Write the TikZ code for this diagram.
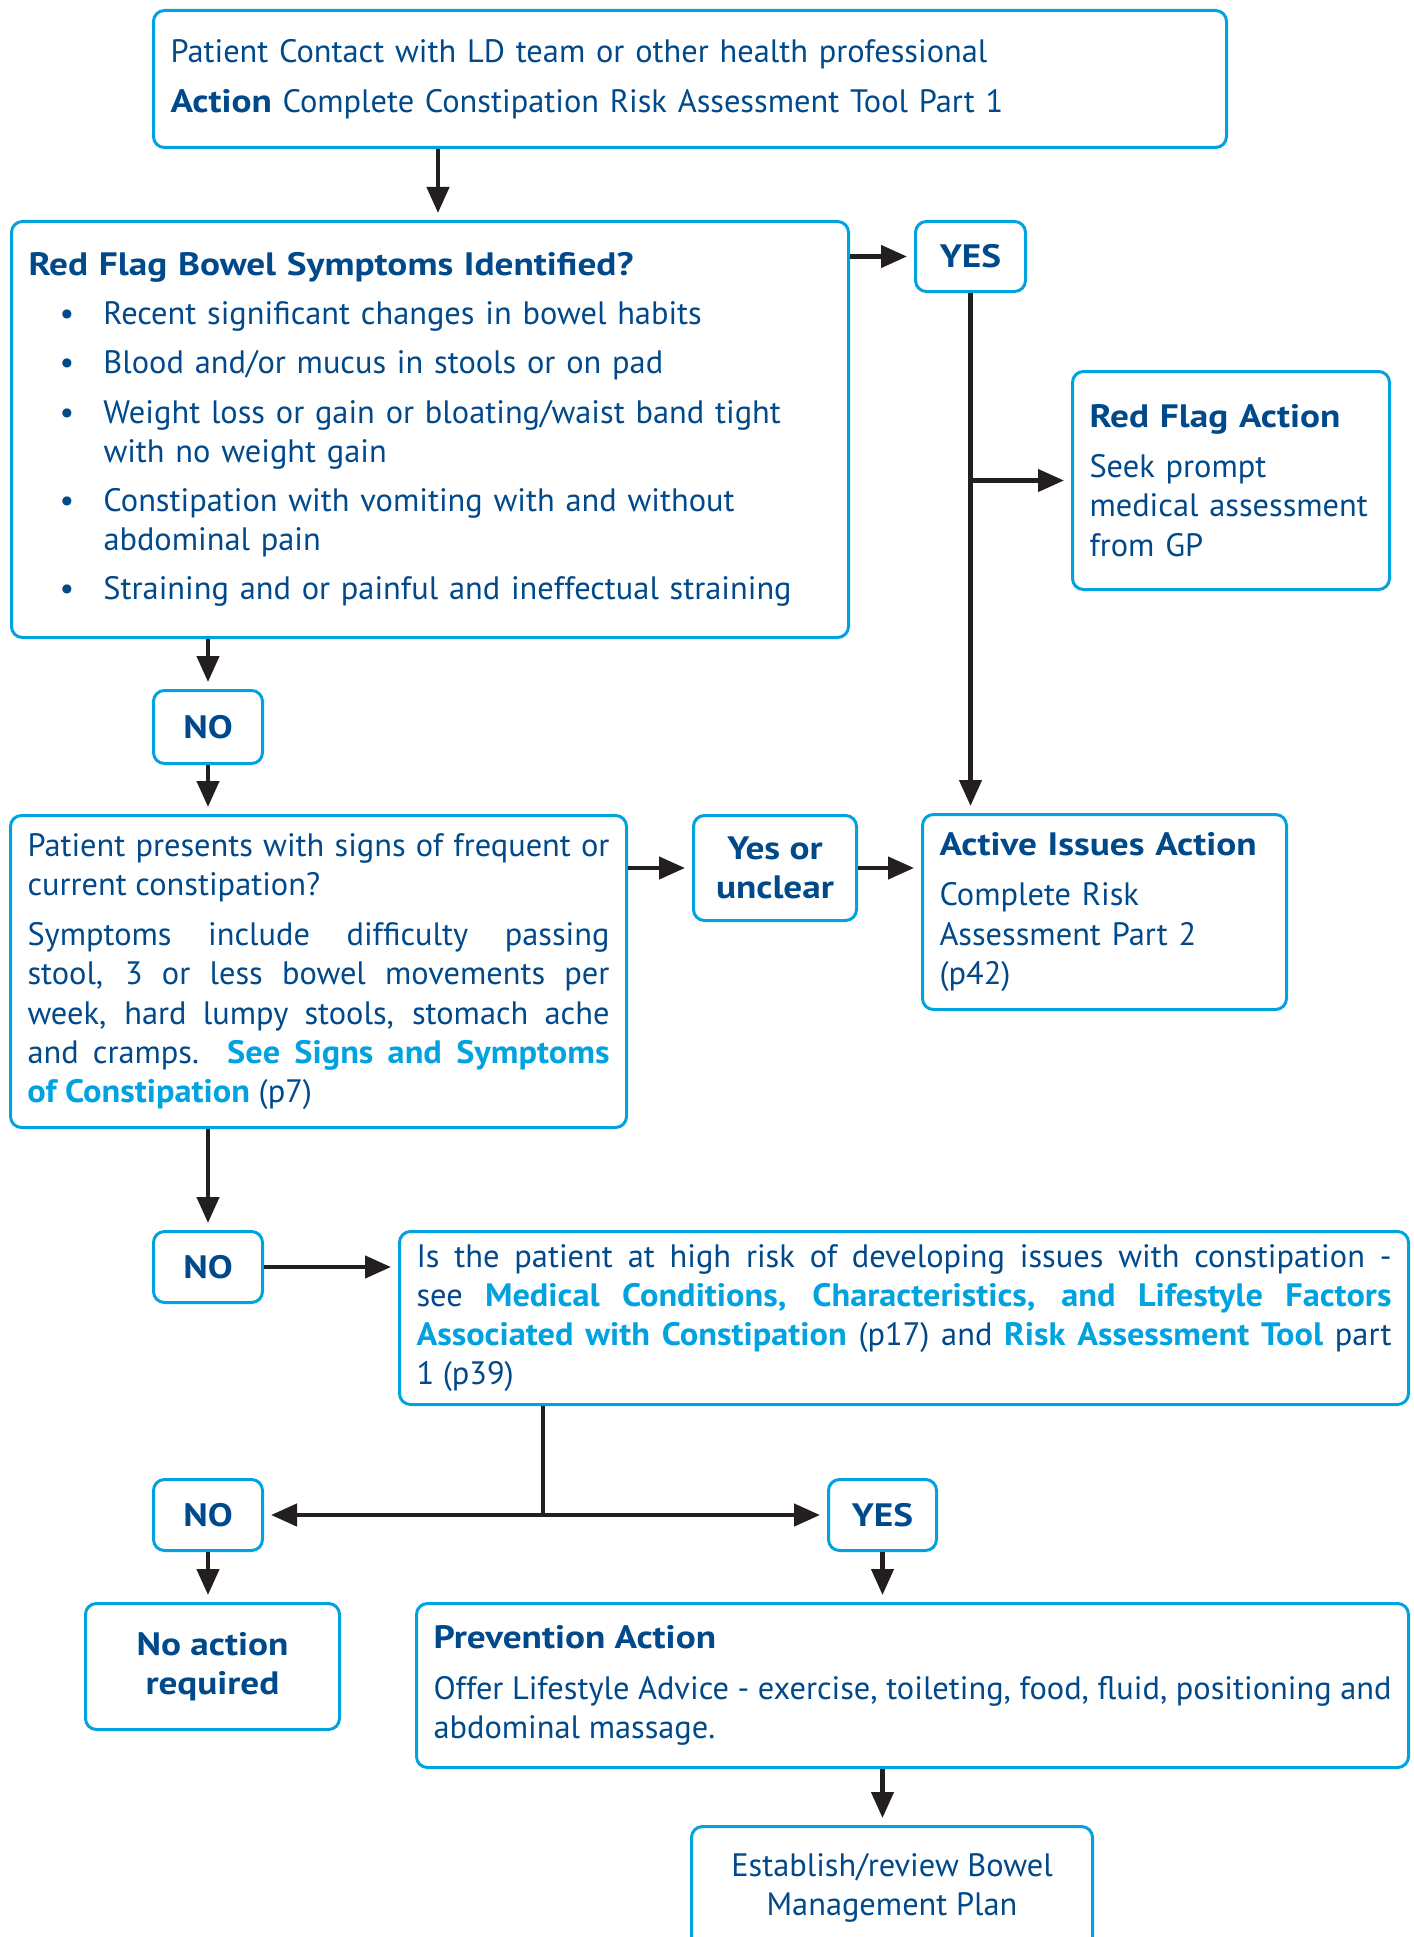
\documentclass[tikz,border=0pt]{standalone}
\usepackage{fontspec}
\setmainfont{PT Sans}[BoldFeatures={FakeStretch=1.15}]
\newfontfamily\linkfont{PT Sans}[BoldFeatures={FakeStretch=1.06}]
\usetikzlibrary{arrows.meta}
\definecolor{dblue}{RGB}{0,73,138}
\definecolor{lblue}{RGB}{0,163,224}
\definecolor{arr}{RGB}{35,31,32}
\newcommand{\myfs}{\fontsize{16.2}{19.6}\selectfont\hyphenpenalty=10000\exhyphenpenalty=10000}
\newcommand{\lnk}[1]{{\linkfont\bfseries\color{lblue}#1}}
\newcommand{\bul}{\par\vspace{5pt}\hangindent=37.5pt\hangafter=1\noindent\makebox[37.5pt][l]{\hspace{15.5pt}\textbullet}}
\newcommand{\gap}{\par\vspace{5.5pt}}
\begin{document}
\begin{tikzpicture}[x=0.5pt,y=-0.5pt,
  box/.style={draw=lblue, line width=1.5pt, rounded corners=5.5pt, anchor=north west,
    inner xsep=8.5pt, inner ysep=0pt, text=dblue, font=\myfs},
  yn/.style={box, minimum width=54.5pt, minimum height=35.5pt, font=\myfs\bfseries},
  wire/.style={draw=arr, line width=2.2pt},
  conn/.style={wire, -{Triangle[length=13pt,width=11pt]}, shorten >=3.5pt}]
\fill[white] (0,0) rectangle (1413,1937);
\useasboundingbox (0,0) rectangle (1413,1937);

\node[box, minimum width=536.5pt, minimum height=68.5pt, text width=519.5pt, align=left] (top) at (152,9)
  {Patient Contact with LD team or other health professional\gap\textbf{Action} Complete Constipation Risk Assessment Tool Part 1};

\node[box, minimum width=418.5pt, minimum height=208pt, text width=401.5pt, align=left] (redflag) at (10,220)
  {\textbf{Red Flag Bowel Symptoms Identified?}
  \bul Recent significant changes in bowel habits
  \bul Blood and/or mucus in stools or on pad
  \bul Weight loss or gain or bloating/waist band tight\newline with no weight gain
  \bul Constipation with vomiting with and without\newline abdominal pain
  \bul Straining and or painful and ineffectual straining};

\node[yn, minimum width=55pt, minimum height=35pt] (yes1) at (914,220) {YES};

\node[box, minimum width=158.5pt, minimum height=109pt, text width=141.5pt, align=left] (rfaction) at (1071,370)
  {\textbf{Red Flag Action}\gap Seek prompt\newline medical assessment\newline from GP};

\node[yn, minimum height=36.5pt] (no1) at (152,689) {NO};

\node[box, minimum width=308pt, minimum height=156pt, text width=291pt, align=justify] (patient) at (9,814)
  {Patient presents with signs of frequent or\linebreak current constipation?\gap
  Symptoms include difficulty passing\linebreak stool, 3 or less bowel movements per\linebreak
  week, hard lumpy stools, stomach ache\linebreak and cramps. \lnk{See Signs and Symptoms}\linebreak
  \lnk{of Constipation} (p7)};

\node[box, minimum width=81.5pt, minimum height=52.5pt, align=center, font=\myfs\bfseries] (yesunclear) at (692,814)
  {Yes or\\unclear};

\node[box, minimum width=182pt, minimum height=97.5pt, text width=165pt, align=left] (active) at (921,813)
  {\textbf{Active Issues Action}\gap Complete Risk\newline Assessment Part 2\newline (p42)};

\node[yn] (no2) at (152,1230) {NO};

\node[box, minimum width=504.5pt, minimum height=86.5pt, text width=487.5pt, align=justify] (highrisk) at (398,1230)
  {Is the patient at high risk of developing issues with constipation -\linebreak
  see \lnk{Medical Conditions, Characteristics, and Lifestyle Factors}\linebreak
  \lnk{Associated with Constipation} (p17) and \lnk{Risk Assessment Tool} part\linebreak 1 (p39)};

\node[yn] (no3) at (152,1478) {NO};
\node[yn, minimum width=54pt] (yes2) at (827,1478) {YES};

\node[box, minimum width=127pt, minimum height=63pt, align=center, font=\myfs\bfseries] (noaction) at (84,1602)
  {No action\\required};

\node[box, minimum width=496pt, minimum height=82pt, text width=479pt, align=justify] (prevention) at (415,1602)
  {\textbf{Prevention Action}\gap Offer Lifestyle Advice - exercise, toileting, food, fluid, positioning and\linebreak abdominal massage.};

\begin{scope}
\clip (0,0) rectangle (1413,1937);
\node[box, minimum width=200.5pt, minimum height=61pt, align=center] (establish) at (690,1825)
  {Establish/review Bowel\\Management Plan};
\end{scope}

% connectors
\coordinate (c1) at (438,0);
\draw[conn] (c1 |- top.south) -- (c1 |- redflag.north);
\draw[conn] (yes1.west -| redflag.east) -- (yes1.west);
\draw[conn] (yes1.south) -- (yes1.south |- active.north);
\draw[conn] (yes1.south |- rfaction.west) -- (rfaction.west);
\draw[conn] (no1.north |- redflag.south) -- (no1.north);
\draw[conn] (no1.south) -- (no1.south |- patient.north);
\draw[conn] (yesunclear.west -| patient.east) -- (yesunclear.west);
\draw[conn] (yesunclear.east) -- (yesunclear.east -| active.west);
\draw[conn] (no2.north |- patient.south) -- (no2.north);
\draw[conn] (no2.east) -- (no2.east -| highrisk.west);
\coordinate (c2) at (543,0);
\coordinate (hj) at (c2 |- no3.east);
\draw[wire] (c2 |- highrisk.south) -- (hj);
\draw[conn] (hj) -- (no3.east);
\draw[conn] (hj) -- (yes2.west);
\draw[conn] (no3.south) -- (no3.south |- noaction.north);
\draw[conn] (yes2.south) -- (yes2.south |- prevention.north);
\draw[conn] (yes2.south |- prevention.south) -- (yes2.south |- establish.north);
\end{tikzpicture}
\end{document}
